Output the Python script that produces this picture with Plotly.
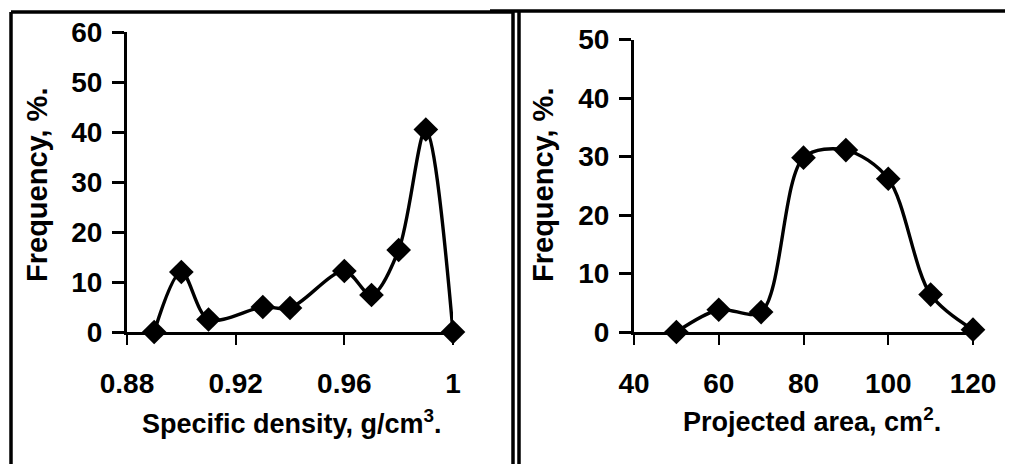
import plotly.graph_objects as go

# ---- data ----
density = [0.89, 0.90, 0.91, 0.93, 0.94, 0.96, 0.97, 0.98, 0.99, 1.00]
density_freq = [0, 12, 2.5, 5, 4.8, 12.2, 7.4, 16.4, 40.5, 0]
area = [50, 60, 70, 80, 90, 100, 110, 120]
area_freq = [0, 3.8, 3.4, 29.8, 31.1, 26.2, 6.4, 0.4]
density_ticks = [0.88, 0.92, 0.96, 1.0]
density_ticktext = ["0.88", "0.92", "0.96", "1"]
area_ticks = [40, 60, 80, 100, 120]
freq_ticks_left = [0, 10, 20, 30, 40, 50, 60]
freq_ticks_right = [0, 10, 20, 30, 40, 50]

OFF = 8  # page body margin
W, H = 1020 - OFF, 464 - OFF
FONT = "Liberation Sans"

def px(x):
    return (x - OFF) / W

def py(y):
    return 1 - (y - OFF) / H

fig = go.Figure()
common = dict(mode="lines+markers",
              line=dict(color="black", width=3.4, shape="spline", smoothing=0.9),
              marker=dict(symbol="diamond", size=19, color="black"),
              cliponaxis=False, showlegend=False)
fig.add_trace(go.Scatter(x=density, y=density_freq, xaxis="x", yaxis="y", **common))
fig.add_trace(go.Scatter(x=area, y=area_freq, xaxis="x2", yaxis="y2", **common))

tickfont = dict(family=FONT, size=28, color="black", weight="bold")
xcommon = dict(showgrid=False, zeroline=False, showline=True, linecolor="black", linewidth=3,
               ticks="outside", ticklen=10, tickwidth=2, tickcolor="black",
               tickfont=tickfont, ticklabelstandoff=14, automargin=False)
ycommon = dict(showgrid=False, zeroline=False, showline=True, linecolor="black", linewidth=3,
               ticks="outside", ticklen=12, tickwidth=2.5, tickcolor="black",
               tickfont=tickfont, ticklabelstandoff=4, automargin=False)

fig.update_layout(
    width=W, height=H, margin=dict(l=0, r=0, t=0, b=0, autoexpand=False),
    paper_bgcolor="white", plot_bgcolor="white",
    xaxis=dict(domain=[px(127), px(453)], range=[0.88, 1.0], tickvals=density_ticks,
               ticktext=density_ticktext, anchor="y", **xcommon),
    yaxis=dict(domain=[py(332), py(32)], range=[0, 60], tickvals=freq_ticks_left,
               anchor="x", **ycommon),
    xaxis2=dict(domain=[px(634), px(973)], range=[40, 120], tickvals=area_ticks,
                anchor="y2", **xcommon),
    yaxis2=dict(domain=[py(332), py(39.5)], range=[0, 50], tickvals=freq_ticks_right,
                anchor="x2", **ycommon),
)

xt_font = dict(family=FONT, size=27, color="black", weight="bold")
yt_font = dict(family=FONT, size=29, color="black", weight="bold")
ann = [
    dict(text="Specific density, g/cm<sup>3</sup>.", x=px(292), y=py(422), font=xt_font),
    dict(text="Projected area, cm<sup>2</sup>.", x=px(812), y=py(420), font=xt_font),
    dict(text="Frequency, %.", x=px(37), y=py(185), textangle=-90, font=yt_font),
    dict(text="Frequency, %.", x=px(543), y=py(185), textangle=-90, font=yt_font),
]
for a in ann:
    fig.add_annotation(xref="paper", yref="paper", showarrow=False,
                       xanchor="center", yanchor="middle", **a)

# panel frames
frame = dict(type="line", xref="paper", yref="paper", line=dict(color="black", width=3.5))
shapes = [
    dict(x0=px(11), x1=px(11), y0=py(12), y1=py(470)),
    dict(x0=px(11), x1=px(513), y0=py(12), y1=py(12)),
    dict(x0=px(513), x1=px(513), y0=py(10), y1=py(470)),
    dict(x0=px(519), x1=px(519), y0=py(10), y1=py(470)),
    dict(x0=px(490), x1=px(1005), y0=py(11), y1=py(11)),
]
for s in shapes:
    fig.add_shape(**frame, x0=s["x0"], x1=s["x1"], y0=s["y0"], y1=s["y1"])
fig.add_shape(type="line", xref="paper", yref="paper", x0=px(1015), x1=px(1015),
              y0=py(300), y1=py(470), line=dict(color="black", width=1.5))

fig.write_html("out.html")
